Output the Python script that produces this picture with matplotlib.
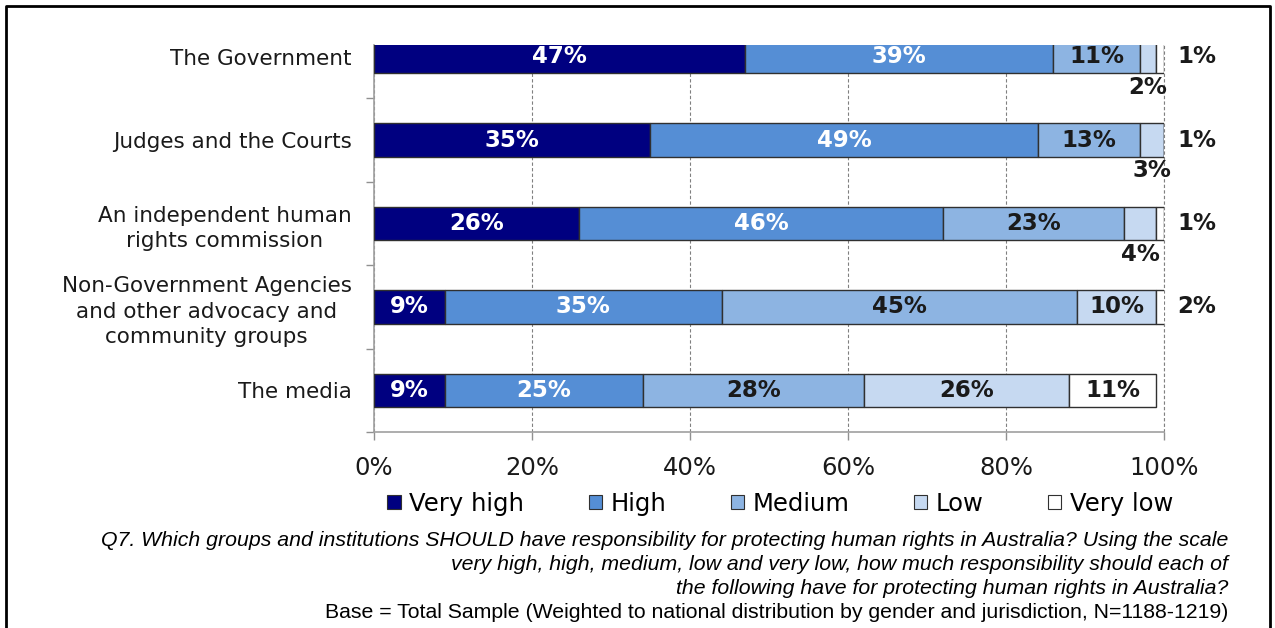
import matplotlib
matplotlib.use("Agg")
import matplotlib.pyplot as plt
from matplotlib.patches import Patch
from matplotlib.lines import Line2D
import numpy as np

categories = ["The Government", "Judges and the Courts",
              "An independent human\nrights commission",
              "Non-Government Agencies\nand other advocacy and\ncommunity groups",
              "The media"]
levels = ["Very high", "High", "Medium", "Low", "Very low"]
very_high = [47, 35, 26, 9, 9]
high = [39, 49, 46, 35, 25]
medium = [11, 13, 23, 45, 28]
low = [2, 3, 4, 10, 26]
very_low = [1, 1, 1, 2, 11]

series = [very_high, high, medium, low, very_low]
colors = ["#000080", "#558ED5", "#8DB4E2", "#C6D9F1", "#FFFFFF"]
text_colors = ["white", "white", "#1a1a1a", "#1a1a1a", "#1a1a1a"]

fig = plt.figure(figsize=(12.75, 6.28), dpi=100)
ax = fig.add_axes([0.2933, 0.3121, 0.9129 - 0.2933, 0.9283 - 0.3121])

y = np.arange(len(categories))
bar_h = 0.4
lab_fs = 16.5
left = np.zeros(len(categories))
for i, vals in enumerate(series):
    vals = np.array(vals, dtype=float)
    ax.barh(y, vals, left=left, height=bar_h, color=colors[i],
            edgecolor="#303030", linewidth=1.0, zorder=3)
    for j, v in enumerate(vals):
        mid = left[j] + v / 2
        lab = f"{int(v)}%"
        if i == 4 and v < 5:
            # tiny "very low" slices: label outside the plot on the right
            ax.text(104.2, y[j], lab, ha="center", va="center", fontsize=lab_fs,
                    fontweight="bold", color="#1a1a1a", clip_on=False, zorder=5)
        elif i == 3 and v < 5:
            # small "low" slices: label below the bar
            ax.text(mid, y[j] + bar_h / 2 + 0.03, lab, ha="center", va="top",
                    fontsize=lab_fs, fontweight="bold", color="#1a1a1a",
                    clip_on=False, zorder=5)
        else:
            ax.text(mid, y[j], lab, ha="center", va="center", fontsize=lab_fs,
                    fontweight="bold", color=text_colors[i], zorder=5)
    left += vals

ax.set_xlim(0, 100)
ax.set_ylim(4.5, -0.14)

ax.set_xticks(np.arange(0, 101, 20))
ax.set_xticklabels([f"{t}%" for t in range(0, 101, 20)], fontsize=17.5, color="#1a1a1a")
ax.tick_params(axis="x", length=6, width=1, color="#909090", pad=11)

ax.set_yticks(y)
ax.set_yticklabels(categories, fontsize=15.5, color="#1a1a1a",
                   multialignment="center", linespacing=1.35)
ax.tick_params(axis="y", which="major", length=0, pad=16)
ax.set_yticks(np.arange(0.5, 5, 1), minor=True)
ax.tick_params(axis="y", which="minor", length=6, width=1, color="#909090")

ax.grid(axis="x", color="#808080", linestyle=(0, (3, 2)), linewidth=0.8, zorder=0)
ax.axvline(100, color="#808080", linestyle=(0, (3, 2)), linewidth=0.8,
           zorder=0, clip_on=False)
ax.set_axisbelow(True)
for s in ["top", "right"]:
    ax.spines[s].set_visible(False)
for s in ["left", "bottom"]:
    ax.spines[s].set_color("#a0a0a0")
    ax.spines[s].set_linewidth(1.2)

handles = [Patch(facecolor=c, edgecolor="#303030", linewidth=0.8) for c in colors]
fig.legend(handles, levels, loc="center", bbox_to_anchor=(0.612, 0.198),
           ncol=5, frameon=False, fontsize=17.5, handlelength=0.55, handleheight=0.55,
           handletextpad=0.35, columnspacing=2.65, borderpad=0)

notes = ["Q7. Which groups and institutions SHOULD have responsibility for protecting human rights in Australia? Using the scale",
         "very high, high, medium, low and very low, how much responsibility should each of",
         "the following have for protecting human rights in Australia?"]
for k, line in enumerate(notes):
    fig.text(1228 / 1275, 1 - (541 + 23.5 * k) / 628, line, ha="right", va="center",
             fontsize=15.3, style="italic", family="Liberation Sans", color="black")
fig.text(1228 / 1275, 1 - 612 / 628,
         "Base = Total Sample (Weighted to national distribution by gender and jurisdiction, N=1188-1219)",
         ha="right", va="center", fontsize=15.3, family="Liberation Sans", color="black")

# outer frame, open at the bottom
fx0, fx1, fy1 = 6 / 1275, 1270 / 1275, 1 - 6 / 628
fig.add_artist(Line2D([fx0, fx0, fx1, fx1], [0, fy1, fy1, 0], color="black",
                      linewidth=2, transform=fig.transFigure))

fig.savefig("out.png", dpi=100)
